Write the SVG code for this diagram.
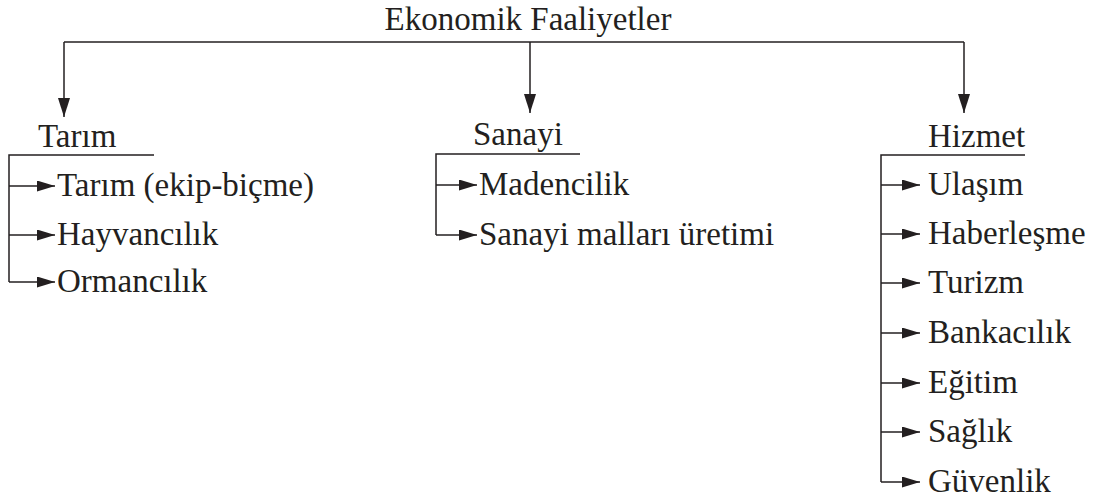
<svg xmlns="http://www.w3.org/2000/svg" width="1095" height="502" viewBox="0 0 1095 502">
<defs>
<style>
text{font-family:"Liberation Serif","DejaVu Serif",serif;font-size:33px;fill:#231f20}
.t{font-size:33px}
.ln{stroke:#231f20;stroke-width:1.5;fill:none}
</style>
<marker id="ah" viewBox="0 0 18 11" refX="18" refY="5.5" markerWidth="18" markerHeight="11" markerUnits="userSpaceOnUse" orient="auto"><path d="M0,0 L18,5.5 L0,11 z" fill="#231f20"/></marker>
<marker id="av" viewBox="0 0 19 12" refX="19" refY="6" markerWidth="19" markerHeight="12" markerUnits="userSpaceOnUse" orient="auto"><path d="M0,0 L19,6 L0,12 z" fill="#231f20"/></marker>
</defs>
<rect width="1095" height="502" fill="#fff"/>
<g id="root"><text class="t" x="528" y="30" text-anchor="middle">Ekonomik Faaliyetler</text></g>
<g id="connectors">
<path class="ln" d="M64,42 H964"/>
<path class="ln" d="M64,42 V117" marker-end="url(#av)"/>
<path class="ln" d="M530,42 V113" marker-end="url(#av)"/>
<path class="ln" d="M964,42 V113" marker-end="url(#av)"/>
<path class="ln" d="M154,155 H9 V282"/>
<path class="ln" d="M9,186 H55" marker-end="url(#ah)"/>
<path class="ln" d="M9,235 H55" marker-end="url(#ah)"/>
<path class="ln" d="M9,282 H55" marker-end="url(#ah)"/>
<path class="ln" d="M580,154 H436 V235"/>
<path class="ln" d="M436,185 H477" marker-end="url(#ah)"/>
<path class="ln" d="M436,235 H477" marker-end="url(#ah)"/>
<path class="ln" d="M1025,155 H881 V482"/>
<path class="ln" d="M881,185 H920" marker-end="url(#ah)"/>
<path class="ln" d="M881,234 H920" marker-end="url(#ah)"/>
<path class="ln" d="M881,283 H920" marker-end="url(#ah)"/>
<path class="ln" d="M881,333 H920" marker-end="url(#ah)"/>
<path class="ln" d="M881,383 H920" marker-end="url(#ah)"/>
<path class="ln" d="M881,432 H920" marker-end="url(#ah)"/>
<path class="ln" d="M881,482 H920" marker-end="url(#ah)"/>
</g>
<g id="tarim"><text x="38" y="147">Tarım</text></g>
<g id="tarim-1"><text x="57" y="196">Tarım (ekip-biçme)</text></g>
<g id="tarim-2"><text x="57" y="245">Hayvancılık</text></g>
<g id="tarim-3"><text x="57" y="292">Ormancılık</text></g>
<g id="sanayi"><text x="473" y="145">Sanayi</text></g>
<g id="sanayi-1"><text x="479" y="195">Madencilik</text></g>
<g id="sanayi-2"><text x="479" y="245">Sanayi malları üretimi</text></g>
<g id="hizmet"><text x="928" y="147">Hizmet</text></g>
<g id="hizmet-1"><text x="928" y="195">Ulaşım</text></g>
<g id="hizmet-2"><text x="928" y="244">Haberleşme</text></g>
<g id="hizmet-3"><text x="928" y="293">Turizm</text></g>
<g id="hizmet-4"><text x="928" y="343">Bankacılık</text></g>
<g id="hizmet-5"><text x="928" y="393">Eğitim</text></g>
<g id="hizmet-6"><text x="928" y="442">Sağlık</text></g>
<g id="hizmet-7"><text x="928" y="492">Güvenlik</text></g>
</svg>
